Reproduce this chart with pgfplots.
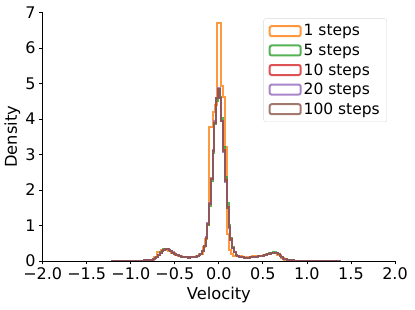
\documentclass[border=0pt]{standalone}
\usepackage{pgfplots}
\pgfplotsset{compat=1.18}
\usepackage{pgfplotstable}
\usepackage{fontspec}
\setmainfont{DejaVu Sans}
\definecolor{corange}{HTML}{FF7F0E}
\definecolor{cgreen}{HTML}{2CA02C}
\definecolor{cred}{HTML}{D62728}
\definecolor{cpurple}{HTML}{9467BD}
\definecolor{cbrown}{HTML}{8C564B}
% 1 step histogram (left bin edges, density)
\pgfplotstableread{
x o
-1.02 0
-1.02 0.002
-0.98 0.004
-0.94 0.006
-0.90 0.008
-0.86 0.012
-0.82 0.018
-0.78 0.03
-0.74 0.10
-0.70 0.24
-0.66 0.30
-0.62 0.32
-0.58 0.29
-0.54 0.22
-0.50 0.17
-0.46 0.14
-0.42 0.115
-0.38 0.105
-0.34 0.11
-0.30 0.12
-0.26 0.14
-0.22 0.20
-0.18 0.40
-0.152 0.62
-0.130 1.0
-0.108 3.78
-0.086 3.78
-0.064 4.2
-0.042 4.4
-0.020 6.71
0.002 6.71
0.024 4.94
0.046 4.63
0.068 3.2
0.090 0.75
0.112 0.32
0.134 0.2
0.156 0.15
0.18 0.14
0.22 0.13
0.26 0.12
0.30 0.12
0.34 0.12
0.38 0.13
0.42 0.14
0.46 0.15
0.50 0.17
0.54 0.19
0.58 0.22
0.62 0.22
0.66 0.17
0.70 0.09
0.74 0.04
0.78 0.02
0.82 0.01
0.86 0.006
0.90 0.004
0.94 0.003
0.98 0.002
1.02 0.001
1.06 0
}\histone
% 5, 10, 20, 100 steps (left bin edges, densities)
\pgfplotstableread{
x g r p b
-1.21 0 0 0 0
-1.21 0.003 0.004 0.003 0.003
-1.17 0.003 0.003 0.004 0.003
-1.13 0.004 0.004 0.004 0.004
-1.09 0.005 0.004 0.004 0.004
-1.05 0.005 0.005 0.006 0.005
-1.01 0.006 0.007 0.006 0.006
-0.97 0.008 0.008 0.009 0.008
-0.93 0.010 0.011 0.010 0.010
-0.89 0.013 0.012 0.012 0.012
-0.85 0.018 0.017 0.017 0.017
-0.81 0.026 0.025 0.025 0.025
-0.79 0.031 0.030 0.030 0.030
-0.77 0.041 0.040 0.040 0.040
-0.75 0.058 0.055 0.054 0.055
-0.73 0.085 0.080 0.078 0.080
-0.71 0.125 0.12 0.118 0.12
-0.69 0.18 0.17 0.17 0.17
-0.67 0.24 0.23 0.225 0.23
-0.65 0.29 0.28 0.28 0.28
-0.63 0.33 0.32 0.315 0.32
-0.61 0.345 0.34 0.335 0.34
-0.59 0.34 0.335 0.33 0.335
-0.57 0.31 0.31 0.31 0.31
-0.55 0.27 0.27 0.275 0.27
-0.53 0.235 0.235 0.24 0.235
-0.51 0.20 0.20 0.20 0.20
-0.49 0.175 0.175 0.175 0.175
-0.47 0.155 0.155 0.155 0.155
-0.45 0.14 0.14 0.14 0.14
-0.43 0.125 0.125 0.125 0.125
-0.41 0.115 0.115 0.115 0.115
-0.39 0.105 0.105 0.105 0.105
-0.37 0.10 0.10 0.10 0.10
-0.35 0.098 0.098 0.098 0.098
-0.33 0.10 0.10 0.10 0.10
-0.31 0.105 0.105 0.105 0.105
-0.29 0.11 0.11 0.11 0.11
-0.27 0.12 0.12 0.12 0.12
-0.25 0.135 0.135 0.135 0.135
-0.23 0.16 0.16 0.16 0.16
-0.21 0.20 0.20 0.20 0.20
-0.19 0.27 0.28 0.29 0.28
-0.17 0.41 0.42 0.43 0.42
-0.15 0.64 0.66 0.68 0.66
-0.13 1.02 1.05 1.08 1.05
-0.11 1.56 1.60 1.64 1.60
-0.09 2.25 2.30 2.34 2.30
-0.07 3.05 3.10 3.14 3.10
-0.05 3.85 3.90 3.93 3.90
-0.03 4.50 4.58 4.60 4.58
-0.01 4.82 4.85 4.86 4.85
0.01 4.62 4.60 4.60 4.60
0.03 4.02 3.95 3.94 3.95
0.05 3.22 3.12 3.08 3.10
0.07 2.38 2.27 2.22 2.25
0.09 1.62 1.52 1.48 1.50
0.11 1.02 0.96 0.94 0.95
0.13 0.64 0.61 0.59 0.60
0.15 0.40 0.38 0.38 0.38
0.17 0.26 0.25 0.25 0.25
0.19 0.18 0.18 0.18 0.18
0.21 0.14 0.14 0.14 0.14
0.23 0.12 0.12 0.12 0.12
0.25 0.11 0.11 0.11 0.11
0.27 0.10 0.10 0.10 0.10
0.29 0.097 0.097 0.097 0.097
0.31 0.095 0.095 0.095 0.095
0.33 0.097 0.097 0.097 0.097
0.35 0.10 0.10 0.10 0.10
0.37 0.105 0.105 0.105 0.105
0.39 0.11 0.11 0.11 0.11
0.41 0.118 0.118 0.118 0.118
0.43 0.125 0.125 0.125 0.125
0.45 0.133 0.133 0.133 0.133
0.47 0.14 0.14 0.14 0.14
0.49 0.15 0.15 0.15 0.15
0.51 0.16 0.16 0.16 0.16
0.53 0.175 0.175 0.175 0.175
0.55 0.19 0.19 0.19 0.19
0.57 0.215 0.21 0.21 0.21
0.59 0.232 0.225 0.225 0.225
0.61 0.242 0.235 0.235 0.235
0.63 0.24 0.235 0.235 0.235
0.65 0.225 0.22 0.22 0.22
0.67 0.19 0.185 0.185 0.185
0.69 0.145 0.14 0.14 0.14
0.71 0.10 0.10 0.10 0.10
0.73 0.07 0.07 0.07 0.07
0.75 0.05 0.05 0.05 0.05
0.77 0.035 0.035 0.035 0.035
0.79 0.025 0.026 0.025 0.025
0.81 0.016 0.017 0.016 0.016
0.85 0.011 0.012 0.011 0.011
0.89 0.008 0.008 0.008 0.008
0.93 0.006 0.006 0.006 0.006
0.97 0.005 0.005 0.005 0.005
1.01 0.004 0.004 0.004 0.004
1.05 0.003 0.003 0.003 0.003
1.09 0.003 0.003 0.003 0.003
1.13 0.002 0.002 0.002 0.002
1.17 0.002 0.002 0.002 0.002
1.21 0.002 0.002 0.002 0.002
1.25 0.001 0.001 0.001 0.001
1.29 0.001 0.001 0.001 0.001
1.33 0.001 0.001 0.001 0.001
1.37 0 0 0 0
}\histrest
\begin{document}
\begin{tikzpicture}
\useasboundingbox (-42.7pt,-49pt) rectangle (372.3pt,261pt);
\begin{axis}[
  scale only axis,
  width=352.3pt, height=248.5pt,
  xmin=-2, xmax=2, ymin=0, ymax=7,
  axis x line*=bottom, axis y line*=left,
  axis line style={-, black, line width=0.8pt},
  every tick/.style={black, line width=0.8pt},
  tick align=outside, major tick length=3.5pt,
  xtick={-2,-1.5,-1,-0.5,0,0.5,1,1.5,2},
  xticklabels={−2.0,−1.5,−1.0,−0.5,0.0,0.5,1.0,1.5,2.0},
  ytick={0,1,2,3,4,5,6,7},
  /pgf/number format/assume math mode=true,
  tick label style={font=\fontsize{16}{19}\selectfont},
  label style={font=\fontsize{16.3}{19}\selectfont},
  xlabel={Velocity}, ylabel={Density},
  xlabel style={at={(axis description cs:0.5,-0.137)}, anchor=center},
  ylabel style={at={(axis description cs:-0.086,0.5)}, anchor=center},
  legend cell align=left,
  legend style={at={(axis description cs:1,1)}, anchor=north east,
    xshift=-8pt, yshift=-6pt, draw=black!15, rounded corners=2pt,
    fill=white, fill opacity=0.8, draw opacity=1, text opacity=1,
    font=\fontsize{15.5}{18}\selectfont, row sep=2.6pt, inner xsep=5pt, inner ysep=4pt},
  legend image code/.code={\draw[#1, fill=none] (0pt,-5pt) rectangle (31pt,5pt);},
  every axis plot/.append style={line width=2pt, no markers, draw opacity=0.8},
]
\addplot[const plot, draw=corange] table[x=x, y=o] {\histone};
\addlegendentry{1 steps}
\addplot[const plot, draw=cgreen] table[x=x, y=g] {\histrest};
\addlegendentry{5 steps}
\addplot[const plot, draw=cred] table[x=x, y=r] {\histrest};
\addlegendentry{10 steps}
\addplot[const plot, draw=cpurple] table[x=x, y=p] {\histrest};
\addlegendentry{20 steps}
\addplot[const plot, draw=cbrown] table[x=x, y=b] {\histrest};
\addlegendentry{100 steps}
\end{axis}
\end{tikzpicture}
\end{document}
